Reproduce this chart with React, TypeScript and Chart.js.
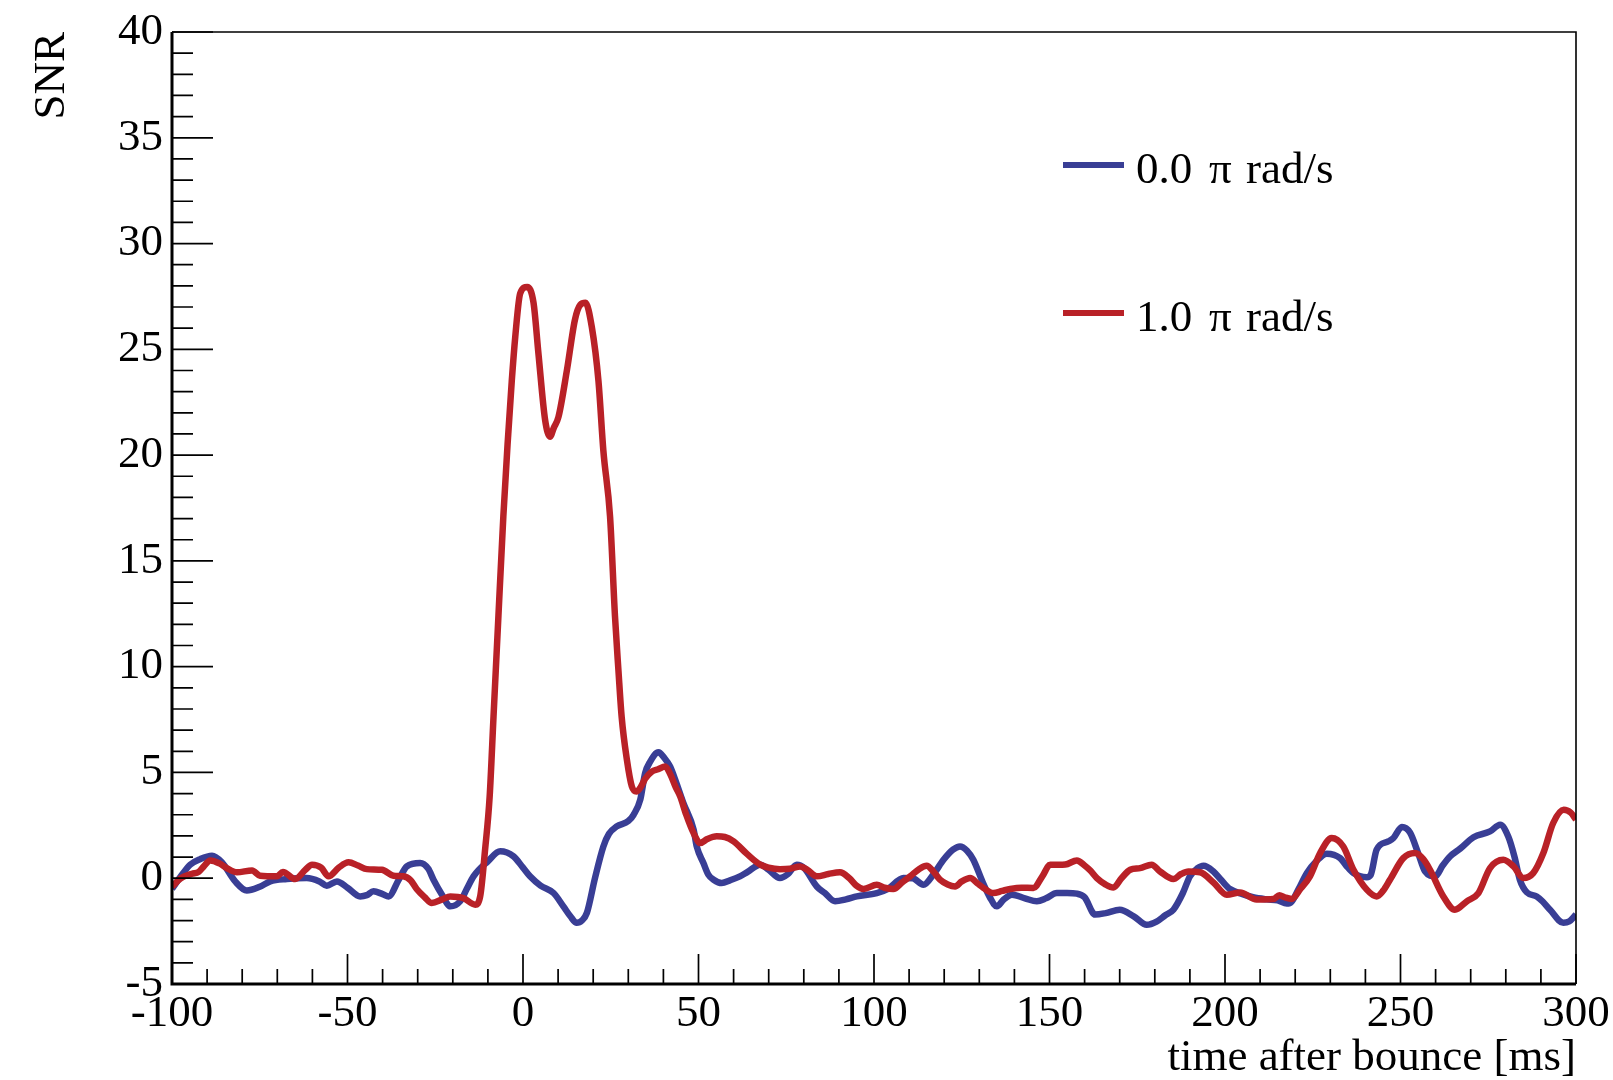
import { useEffect, useRef } from "react";
import { Chart, registerables } from "chart.js";

Chart.register(...registerables);

// ---------- data ----------
const timeBlue = [
  -100, -97, -94.8, -92, -88.6, -85.8, -82, -78.7, -75, -72, -67.3, -61.6, -58, -55.9, -53, -50, -46.4, -44.5,
  -42.6, -40, -38.3, -35.5, -33.1, -29.3, -27, -25.5, -23, -20.7, -17.9, -16, -14.1, -10, -6.5, -2.7, 0, 2, 5,
  8.7, 11.5, 13.5, 15.3, 16.8, 18.2, 20.5, 22.9, 24.5, 26.7, 30, 31.5, 33.4, 34.8, 36.2, 38.6, 40.2, 41.9, 43.7,
  45.7, 48.6, 49.5, 51.4, 52.8, 54.3, 56.6, 59, 61.8, 64, 67.6, 70, 73.2, 75.5, 78, 80, 83.7, 86, 88.9, 92, 95.1,
  100.8, 104, 108.4, 111, 114.1, 117, 119.8, 122.5, 124.5, 126.5, 128.3, 131, 133, 135, 137, 139.3, 143, 146.4,
  149, 152.1, 155, 157.8, 160, 163, 166, 170, 174, 177.7, 180.5, 183, 185.3, 188, 190, 192, 193.9, 196.7, 199,
  201.4, 205, 208, 211.9, 215, 217.6, 219, 221, 223.3, 226, 229, 232.8, 234.5, 236.6, 240.4, 241.5, 243.2, 246.5,
  248, 250.4, 252.7, 255, 257, 259.9, 262, 264.1, 267, 270.8, 275.5, 278.4, 280.7, 282.5, 284, 286, 288.8, 290.5,
  292.6, 296.4, 298, 300,
];
const snrBlue = [
  -0.5, 0.2, 0.64, 0.9, 1.06, 0.75, -0.15, -0.58, -0.4, -0.15, -0.04, 0.01, -0.15, -0.35, -0.15, -0.45, -0.86, -0.8,
  -0.62, -0.75, -0.86, -0.1, 0.56, 0.72, 0.45, -0.07, -0.8, -1.33, -1.09, -0.5, 0.09, 0.8, 1.27, 1.03, 0.5, 0.09, -0.35,
  -0.7, -1.33, -1.8, -2.11, -2.0, -1.64, 0.0, 1.5, 2.1, 2.45, 2.7, 3.0, 3.71, 4.97, 5.5, 5.95, 5.7, 5.28, 4.5,
  3.55, 2.3, 1.5, 0.72, 0.17, -0.07, -0.23, -0.1, 0.09, 0.3, 0.64, 0.4, 0.01, 0.2, 0.64, 0.5, -0.39, -0.7, -1.09, -1.0, -0.86,
  -0.7, -0.5, 0.01, 0.0, -0.31, 0.2, 0.87, 1.35, 1.5, 1.3, 0.87, -0.2, -0.9, -1.33, -1.0, -0.78, -0.95, -1.09,
  -0.95, -0.7, -0.7, -0.73, -0.9, -1.72, -1.65, -1.49, -1.8, -2.2, -2.05, -1.75, -1.49, -0.7, 0.09, 0.45, 0.59, 0.32, -0.1,
  -0.51, -0.75, -0.9, -1.0, -1.05, -1.2, -1.1, -0.5, 0.24, 0.8, 1.16, 0.95, 0.6, 0.24, 0.05, 0.15, 1.35, 1.74,
  1.9, 2.42, 2.16, 1.2, 0.32, 0.09, 0.6, 1.03, 1.4, 1.94, 2.21, 2.53, 1.97, 1.0, -0.07, -0.67, -0.86, -1.1,
  -1.49, -2.11, -2.05, -1.72,
];

const timeRed = [
  -100, -97.5, -94.3, -92.4, -91, -89.1, -86.5, -84.4, -81.5, -77.2, -74.9, -70.1, -68.4, -64.9, -62, -60.1, -57.5,
  -55.4, -52.5, -49.7, -47, -44.5, -40.2, -36.9, -34.1, -32, -30.3, -28, -26, -23, -20.7, -17, -13.6, -12.2, -10.8,
  -9.5, -8.4, -7, -5.6, -4.4, -3.2, -2.2, -0.8, 1.2, 3, 4.4, 6.3, 7.7, 8.8, 10.1, 12.5, 14.8, 16.3, 17.8, 19.6, 21.5,
  22.9, 24.8, 26.2, 27.2, 28.1, 29.6, 31, 32.3, 33.5, 34.8, 36.7, 38.5, 40.5, 42, 43.5, 44.8, 46.5, 48.6, 50.5, 52.5,
  55.2, 57.5, 60, 63.8, 67.6, 70, 73.2, 76, 79, 81, 83.7, 87, 90.3, 93, 95, 97, 100.8, 103, 105.5, 108, 110.3, 113,
  115, 117, 118.8, 121, 123.1, 125, 127.4, 129.5, 131.2, 134, 136.5, 138.8, 142, 145.4, 148, 150.2, 152.5, 154.5,
  157.8, 160, 161.7, 163.5, 166, 168.2, 170.5, 173, 175.8, 179.1, 181.5, 185.3, 187.5, 189.6, 192.9, 196.7, 200.5,
  204.3, 209, 213.8, 215.5, 217, 219, 221.5, 224.2, 227.1, 230.4, 233.7, 236.6, 240.4, 243.2, 245, 247, 250.8,
  254.1, 256.5, 258.4, 262.2, 265.5, 268.9, 272.2, 275.5, 279.3, 282.2, 285, 287.8, 290.7, 293.5, 296.5, 298.5, 300,
];
const snrRed = [
  -0.4, 0.0, 0.21, 0.3, 0.55, 0.84, 0.7, 0.48, 0.28, 0.37, 0.12, 0.09, 0.3, -0.04, 0.4, 0.64, 0.5,
  0.09, 0.5, 0.75, 0.6, 0.43, 0.4, 0.12, 0.09, -0.1, -0.51, -0.9, -1.17, -1.0, -0.86, -0.94, -1.25, -0.86, 1.35,
  3.86, 7.64, 12.4, 17.1, 20.5, 23.5, 25.6, 27.65, 27.95, 27.2, 24.8, 21.66, 20.87, 21.3, 21.8, 24.0, 26.4, 27.1, 27.2, 26.06, 23.5,
  20.2, 17.1, 12.4, 9.8, 7.64, 5.6, 4.34, 4.1, 4.3, 4.7, 5.04, 5.15, 5.28, 4.9, 4.3, 3.86, 3.0, 2.13, 1.66, 1.85,
  1.98, 1.95, 1.74, 1.15, 0.64, 0.5, 0.43, 0.45, 0.56, 0.4, 0.09, 0.2, 0.28, 0.0, -0.35, -0.51, -0.31, -0.45, -0.51, -0.2, 0.09, 0.45,
  0.59, 0.3, -0.07, -0.3, -0.39, -0.15, 0.01, -0.25, -0.46, -0.7, -0.6, -0.51, -0.45, -0.46, 0.1, 0.64, 0.64, 0.65,
  0.84, 0.6, 0.35, 0.01, -0.3, -0.44, 0.0, 0.4, 0.48, 0.64, 0.32, -0.04, 0.2, 0.32, 0.28, -0.2, -0.78,
  -0.67, -1.0, -0.98, -0.8, -0.9, -0.98, -0.5, 0.09, 1.19, 1.9, 1.5, 0.4, -0.54, -0.86, -0.6, -0.07, 0.95,
  1.19, 0.9, 0.4, -0.86, -1.49, -1.09, -0.7, 0.48, 0.87, 0.56, 0.01, 0.24, 1.19, 2.61, 3.24, 3.1, 2.77,
];

const seriesLabels = ["0.0 π rad/s", "1.0 π rad/s"];
const seriesColors = ["#393e95", "#b92127"];
const xTicks = [-100, -50, 0, 50, 100, 150, 200, 250, 300];
const yTicks = [-5, 0, 5, 10, 15, 20, 25, 30, 35, 40];
const xTitle = "time after bounce [ms]";
const yTitle = "SNR";

const FONT = "'Liberation Serif', 'Times New Roman', serif";

const framePlugin = {
  id: "rootFrame",
  afterDatasetsDraw(chart: any) {
    const { ctx, chartArea: a, scales } = chart;
    const xs = scales.x;
    const ys = scales.y;
    ctx.save();
    ctx.strokeStyle = "#000";
    ctx.lineCap = "butt";
    // thin top/right frame
    ctx.lineWidth = 1.6;
    ctx.beginPath();
    ctx.moveTo(a.left, a.top);
    ctx.lineTo(a.right, a.top);
    ctx.lineTo(a.right, a.bottom);
    ctx.stroke();
    // thick left/bottom axes
    ctx.lineWidth = 3;
    ctx.beginPath();
    ctx.moveTo(a.left, a.top);
    ctx.lineTo(a.left, a.bottom);
    ctx.lineTo(a.right, a.bottom);
    ctx.stroke();
    // ticks
    ctx.lineWidth = 1.7;
    ctx.beginPath();
    const xStep = (xTicks[1] - xTicks[0]) / 5;
    for (let i = 0; i < xTicks.length; i++) {
      for (let k = 0; k < 5; k++) {
        const v = xTicks[i] + k * xStep;
        if (v > xTicks[xTicks.length - 1]) break;
        const px = xs.getPixelForValue(v);
        const len = k === 0 ? 30 : 15;
        ctx.moveTo(px, a.bottom);
        ctx.lineTo(px, a.bottom - len);
      }
    }
    const yStep = (yTicks[1] - yTicks[0]) / 5;
    for (let i = 0; i < yTicks.length; i++) {
      for (let k = 0; k < 5; k++) {
        const v = yTicks[i] + k * yStep;
        if (v > yTicks[yTicks.length - 1]) break;
        const py = ys.getPixelForValue(v);
        const len = k === 0 ? 41 : 21;
        ctx.moveTo(a.left, py);
        ctx.lineTo(a.left + len, py);
      }
    }
    ctx.stroke();
    ctx.restore();
  },
  afterDraw(chart: any) {
    const { ctx, chartArea: a } = chart;
    ctx.save();
    ctx.fillStyle = "#000";
    ctx.font = `45px ${FONT}`;
    // x title
    ctx.textAlign = "right";
    ctx.textBaseline = "alphabetic";
    ctx.fillText(xTitle, a.right, 1070);
    // y title
    ctx.save();
    ctx.translate(64, a.top);
    ctx.rotate(-Math.PI / 2);
    ctx.textAlign = "right";
    ctx.fillText(yTitle, 0, 0);
    ctx.restore();
    // legend
    const rows = [165, 313];
    chart.data.datasets.forEach((ds: any, i: number) => {
      const y = rows[i];
      ctx.strokeStyle = ds.borderColor;
      ctx.lineWidth = 6;
      ctx.beginPath();
      ctx.moveTo(1063, y);
      ctx.lineTo(1124, y);
      ctx.stroke();
      const parts = String(ds.label).split(" ");
      ctx.textAlign = "left";
      ctx.fillStyle = "#000";
      ctx.fillText(parts[0], 1136, y + 18);
      ctx.fillText(parts[1], 1209, y + 18);
      ctx.fillText(parts.slice(2).join(" "), 1246, y + 18);
    });
    ctx.restore();
  },
};

export default function App() {
  const ref = useRef<HTMLCanvasElement | null>(null);
  useEffect(() => {
    if (!ref.current) return;
    const mk = (t: number[], v: number[]) => t.map((x, i) => ({ x, y: v[i] }));
    const chart = new Chart(ref.current, {
      type: "line",
      data: {
        datasets: [
          {
            label: seriesLabels[0],
            data: mk(timeBlue, snrBlue),
            borderColor: seriesColors[0],
            borderWidth: 6.5,
            pointRadius: 0,
            cubicInterpolationMode: "monotone",
            order: 1,
          },
          {
            label: seriesLabels[1],
            data: mk(timeRed, snrRed),
            borderColor: seriesColors[1],
            borderWidth: 6.5,
            pointRadius: 0,
            cubicInterpolationMode: "monotone",
            order: 0,
          },
        ],
      },
      options: {
        animation: false,
        responsive: false,
        devicePixelRatio: 1,
        layout: { padding: { top: 32, right: 37, left: 0, bottom: 0 } },
        plugins: { legend: { display: false }, tooltip: { enabled: false } },
        scales: {
          x: {
            type: "linear",
            min: xTicks[0],
            max: xTicks[xTicks.length - 1],
            afterBuildTicks: (s: any) => {
              s.ticks = xTicks.map((v) => ({ value: v }));
            },
            ticks: {
              autoSkip: false,
              maxRotation: 0,
              padding: 3,
              color: "#000",
              font: { family: FONT, size: 45 },
            },
            grid: { display: false, drawTicks: false },
            border: { display: false },
            afterFit: (s: any) => {
              s.height = 96;
            },
          },
          y: {
            type: "linear",
            min: yTicks[0],
            max: yTicks[yTicks.length - 1],
            afterBuildTicks: (s: any) => {
              s.ticks = yTicks.map((v) => ({ value: v }));
            },
            ticks: {
              autoSkip: false,
              padding: 9,
              color: "#000",
              font: { family: FONT, size: 45, lineHeight: 1 },
            },
            grid: { display: false, drawTicks: false },
            border: { display: false },
            afterFit: (s: any) => {
              s.width = 172;
              s.paddingTop = 0;
              s.paddingBottom = 0;
            },
          },
        },
      },
      plugins: [framePlugin],
    });
    return () => chart.destroy();
  }, []);
  return (
    <div style={{ position: "fixed", left: 0, top: 0, width: 1613, height: 1080, background: "#fff" }}>
      <canvas ref={ref} width={1613} height={1080} style={{ display: "block" }} />
    </div>
  );
}
